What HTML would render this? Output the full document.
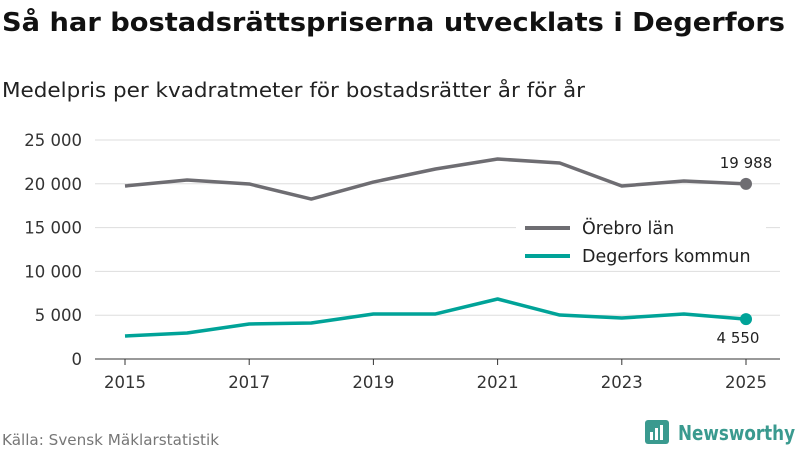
<!DOCTYPE html>
<html><head><meta charset="utf-8"><style>
body{margin:0;background:#fff;width:800px;height:450px;overflow:hidden;font-family:"DejaVu Sans","Liberation Sans",sans-serif}
svg text{font-family:"DejaVu Sans","Liberation Sans",sans-serif}
</style></head><body>
<svg width="800" height="450" id="c" xmlns="http://www.w3.org/2000/svg">
<text x="2" y="31" font-size="26" font-weight="bold" fill="#111" textLength="783" lengthAdjust="spacingAndGlyphs">Så har bostadsrättspriserna utvecklats i Degerfors</text>
<text x="2" y="97" font-size="20" fill="#222" textLength="583" lengthAdjust="spacingAndGlyphs">Medelpris per kvadratmeter för bostadsrätter år för år</text>
<text x="2" y="445" font-size="15" fill="#777" textLength="217" lengthAdjust="spacingAndGlyphs">Källa: Svensk Mäklarstatistik</text>
<g>
<rect x="645" y="420" width="24" height="24" rx="3" fill="#3a9a8f"/>
<rect x="650" y="432" width="3" height="8" fill="#fff"/><rect x="655" y="428" width="3" height="12" fill="#fff"/><rect x="660" y="425" width="3" height="15" fill="#fff"/>
<text x="678" y="440" font-size="20" font-weight="bold" fill="#3a9a8f" textLength="117" lengthAdjust="spacingAndGlyphs">Newsworthy</text>
</g>
<g id="plot"></g>
</svg>
<script>
const years=[2015,2016,2017,2018,2019,2020,2021,2022,2023,2024,2025];
const orebro=[19750,20430,19980,18260,20200,21690,22830,22370,19750,20320,19988];
const degerfors=[2630,2970,4000,4110,5140,5140,6850,5020,4680,5140,4550];
const yTicks=[0,5000,10000,15000,20000,25000];
const yTickLabels=["0","5 000","10 000","15 000","20 000","25 000"];
const xTicks=[2015,2017,2019,2021,2023,2025];
const ns="http://www.w3.org/2000/svg";
const g=document.getElementById('plot');
const x=v=>125+(v-2015)*62.1;
const y=v=>359-v*(219/25000);
function mk(t,a){const e=document.createElementNS(ns,t);for(const k in a)e.setAttribute(k,a[k]);g.appendChild(e);return e;}
yTicks.forEach((t,i)=>{
 const l=mk('line',{x1:95,x2:780,y1:y(t),y2:y(t),stroke:t===0?'#333':'#ddd','stroke-width':1});
 
 
 const tx=mk('text',{x:82,y:y(t)+6,'text-anchor':'end','font-size':16.5,fill:'#333'});
 tx.textContent=yTickLabels[i];
 
 
});
xTicks.forEach(t=>{
 const l=mk('line',{x1:x(t),x2:x(t),y1:359,y2:365,stroke:'#333'});
 
 
 const tx=mk('text',{x:x(t),y:388,'text-anchor':'middle','font-size':16.5,fill:'#333'});
 tx.textContent=t;
 
 
});
function series(vals,col,name){
 const p=mk('polyline',{points:vals.map((v,i)=>x(years[i])+','+y(v)).join(' '),fill:'none',stroke:col,'stroke-width':3.5,'stroke-linejoin':'round'});
 
 
 const n=vals.length-1;
 const c=mk('circle',{cx:x(years[n]),cy:y(vals[n]),r:6,fill:col});
 
 
}
series(orebro,'#6e6d72','orebro');
series(degerfors,'#00a398','degerfors');
const fmt=v=>String(v).replace(/\B(?=(\d{3})+(?!\d))/g,' ');
let t1=mk('text',{x:x(2025),y:y(orebro[10])-16,'text-anchor':'middle','font-size':15,fill:'#222'});t1.textContent=fmt(orebro[10]);


let t2=mk('text',{x:x(2025)-8,y:y(degerfors[10])+24,'text-anchor':'middle','font-size':15,fill:'#222'});t2.textContent=fmt(degerfors[10]);


[['Örebro län','#6e6d72',228],['Degerfors kommun','#00a398',256]].forEach(([lab,col,yy])=>{
 const r=mk('rect',{x:516,y:yy-14,width:250,height:26,fill:'#fff'});
 
 
 const l=mk('line',{x1:525,x2:570,y1:yy,y2:yy,stroke:col,'stroke-width':4});
 
 
 const t=mk('text',{x:582,y:yy+6,'font-size':17.5,fill:'#222'});t.textContent=lab;
 
 
});
</script>
</body></html>
